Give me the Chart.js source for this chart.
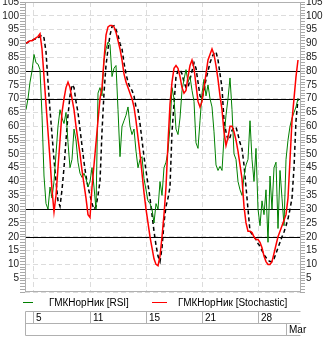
<!DOCTYPE html>
<html>
<head>
<meta charset="utf-8">
<script src="https://cdn.jsdelivr.net/npm/chart.js@4.4.1/dist/chart.umd.min.js"></script>
<style>
  html, body { margin: 0; padding: 0; background: #fff; }
</style>
</head>
<body>
<canvas id="chart" width="327" height="337"></canvas>
<script>
// Hourly bars, one index per bar.
const RSI = [
    66, 70, 76, 80, 86, 83, 82.5, 80.5, 64, 42, 32, 30, 38, 34, 40, 50, 60, 66, 63, 61,
    65, 54, 45, 48, 59, 55, 47, 43, 41.5, 43, 41, 38, 40, 45, 38, 30, 72, 74, 71, 84,
    88, 90.5, 89.5, 78, 81, 82, 66, 49, 60, 62, 64, 67, 60, 57, 59, 51, 45, 48, 49, 41,
    37, 33, 32, 30, 25, 32, 30, 40, 35, 45, 47, 51, 60, 74, 70, 59, 57, 63, 73, 77,
    80.5, 76, 78, 73, 69, 54, 52, 62, 72, 77, 71, 75, 70, 67, 58, 46, 44, 45.5, 44, 56,
    64, 70, 77.5, 66, 50, 48, 40, 37, 35, 42, 46, 48, 62, 48, 40, 52, 30, 24, 33, 28,
    37, 18, 42, 30, 45, 47, 23, 44, 34, 24, 48, 55, 60, 63, 65, 67, 70
];
const STOCHASTIC = [
    90, 90.5, 91, 91, 91.5, 92, 92.5, 93.5, 88, 78, 68, 58, 48, 37, 29, 35, 45, 55, 65, 70,
    74, 76, 74, 70, 66, 60, 55, 50, 44, 39, 34, 28, 27, 38, 46, 54, 62, 70, 74, 84,
    93, 96, 96.5, 96.5, 96, 94, 91, 88, 84, 79, 76, 74, 72, 70, 67, 62, 56, 50, 43, 36,
    30, 25, 20, 16, 12, 10, 9.5, 13, 20, 28, 38, 54, 68, 76, 81, 82, 81, 78, 74, 72,
    73, 78, 82, 84, 81, 75, 69, 67, 69, 74, 79, 84, 86, 88, 86, 82, 77, 71, 66, 58,
    53, 56, 60, 60, 58, 55, 51, 46, 41, 31, 25, 22, 22, 21.5, 20, 19, 19, 18, 16, 13,
    11, 10, 10, 11, 14, 17, 20, 22, 24, 26, 28, 34, 48, 62, 70, 78, 84
];
const SIGNAL = [
    90, 90.5, 91, 91, 91.5, 91.5, 92, 92.5, 93, 92, 87, 76, 66, 57, 48, 40, 33, 31, 37, 45,
    55, 64, 71, 75, 74, 69, 65, 59, 53, 47, 42, 38, 35, 32, 30, 31, 35, 40, 58, 72,
    82, 88, 93, 96, 96.4, 95, 93, 90, 88, 83, 79, 76, 74, 73, 71, 67, 66, 61, 55, 49,
    44, 39, 34, 28, 22, 17, 13, 11, 16, 25, 31, 34, 38, 58, 68, 78, 80, 80.5, 79, 76,
    74, 74, 77, 80, 83, 81, 76, 71, 70, 73, 77, 80, 83, 85, 86.5, 87, 84, 79, 74, 62,
    58, 55, 56, 58.5, 59.5, 59.7, 57, 54, 52, 46, 38, 30, 22, 21, 20, 19, 17.5, 16.7, 15, 13.5,
    12.5, 11.5, 11, 11, 12, 14, 16, 18, 20, 21.7, 24, 26.5, 30, 34, 45, 62, 70
];

// Overbought / oversold levels.
const LEVELS = [20, 30, 70, 80];

// Day boundaries (bar index) and their labels, then month boundary.
const DAY_TICKS = [3.5, 32, 60, 88, 116];
const DAY_LABELS = ['5', '11', '15', '21', '28'];
const MONTH_TICKS = [130];
const MONTH_LABELS = ['Mar'];

const FONT = '"Liberation Sans", Arial, sans-serif';
const GRID = '#dcdcdc';
const FRAME = '#b0b0b0';

const Y_STEPS = [];
for (let v = 0; v <= 105; v++) Y_STEPS.push(v);

const toPoints = arr => arr.map((v, i) => ({x: i, y: v}));

/**
 * Build a value axis; left one draws the grid, right one only ticks.
 */
function valueAxis(position) {
    return {
        type: 'linear',
        position: position,
        min: 0,
        max: 105,
        afterBuildTicks: scale => {
            scale.ticks = Y_STEPS.map(v => ({value: v}));
        },
        afterFit: scale => {
            scale.width = position === 'left' ? 25 : 27;
            scale.paddingTop = 0;
            scale.paddingBottom = 0;
        },
        grid: {
            drawOnChartArea: position === 'left',
            color: ctx => (ctx.tick && ctx.tick.value % 5 === 0) ? GRID : 'rgba(0,0,0,0)',
            tickColor: '#a8a8a8',
            tickLength: 5,
            lineWidth: 1
        },
        border: {display: false, dash: [5, 3]},
        ticks: {
            autoSkip: false,
            padding: 1,
            color: '#222',
            font: {family: FONT, size: 10},
            callback: v => (v > 0 && v % 5 === 0) ? String(v) : ''
        }
    };
}

/**
 * Level lines, frame, legend and the date table under the plot.
 */
const decorations = {
    id: 'decorations',
    beforeDatasetsDraw(chart) {
        const {ctx, chartArea: a, scales: {y}} = chart;
        ctx.save();
        ctx.strokeStyle = '#000';
        ctx.lineWidth = 1;
        LEVELS.forEach(v => {
            const py = Math.round(y.getPixelForValue(v)) + 0.5;
            ctx.beginPath();
            ctx.moveTo(a.left, py);
            ctx.lineTo(a.right, py);
            ctx.stroke();
        });
        ctx.restore();
    },
    afterDraw(chart) {
        const {ctx, chartArea: a, scales: {x}} = chart;
        const left = Math.floor(a.left) + 0.5;
        const right = Math.round(a.right) + 0.5;
        ctx.save();

        // plot frame
        ctx.strokeStyle = FRAME;
        ctx.lineWidth = 1;
        ctx.strokeRect(left, Math.round(a.top) + 0.5, right - left, Math.round(a.bottom) - Math.round(a.top) - 1);

        // legend
        ctx.font = '10px ' + FONT;
        ctx.textBaseline = 'middle';
        ctx.fillStyle = '#000';
        const items = [
            {ds: chart.data.datasets[0], x0: 23, x1: 33, tx: 49},
            {ds: chart.data.datasets[1], x0: 152, x1: 167, tx: 178}
        ];
        items.forEach(it => {
            ctx.fillStyle = it.ds.borderColor;
            ctx.fillRect(it.x0, 302, it.x1 - it.x0, 1);
            ctx.fillStyle = '#000';
            ctx.fillText(it.ds.label, it.tx, 303);
        });

        // date table
        const top = 311.5, mid = 323.5, bottom = 335.5;
        ctx.strokeStyle = FRAME;
        ctx.beginPath();
        [top, mid, bottom].forEach(yy => {
            ctx.moveTo(left, yy);
            ctx.lineTo(right, yy);
        });
        ctx.moveTo(left, top);
        ctx.lineTo(left, bottom);
        DAY_TICKS.forEach(v => {
            const px = Math.round(x.getPixelForValue(v)) + 0.5;
            ctx.moveTo(px, top);
            ctx.lineTo(px, mid);
        });
        MONTH_TICKS.forEach(v => {
            const px = Math.round(x.getPixelForValue(v)) + 0.5;
            ctx.moveTo(px, mid);
            ctx.lineTo(px, bottom);
        });
        ctx.stroke();

        ctx.fillStyle = '#000';
        DAY_TICKS.forEach((v, i) => {
            ctx.fillText(DAY_LABELS[i], Math.round(x.getPixelForValue(v)) + 3, (top + mid) / 2 + 0.5);
        });
        MONTH_TICKS.forEach((v, i) => {
            ctx.fillText(MONTH_LABELS[i], Math.round(x.getPixelForValue(v)) + 3, (mid + bottom) / 2 + 0.5);
        });
        ctx.restore();
    }
};

new Chart(document.getElementById('chart').getContext('2d'), {
    type: 'line',
    data: {
        datasets: [
            {
                label: 'ГМКНорНик [RSI]',
                data: toPoints(RSI),
                borderColor: '#008000',
                borderWidth: 1,
                order: 1
            },
            {
                label: 'ГМКНорНик [Stochastic]',
                data: toPoints(STOCHASTIC),
                borderColor: '#ff0000',
                borderWidth: 1.5,
                order: 0
            },
            {
                label: 'signal',
                data: toPoints(SIGNAL),
                borderColor: '#000000',
                borderWidth: 1.5,
                borderDash: [4, 3],
                order: 2
            }
        ]
    },
    options: {
        responsive: false,
        animation: false,
        events: [],
        layout: {padding: {top: 2, left: 0, right: 0, bottom: 0}},
        elements: {
            point: {radius: 0},
            line: {tension: 0, fill: false}
        },
        plugins: {
            legend: {display: false},
            tooltip: {enabled: false}
        },
        scales: {
            x: {
                type: 'linear',
                min: -0.5,
                max: 137,
                afterBuildTicks: scale => {
                    scale.ticks = DAY_TICKS.map(v => ({value: v}));
                },
                afterFit: scale => {
                    scale.height = 45;
                },
                ticks: {display: false},
                grid: {color: GRID, drawTicks: false},
                border: {display: false, dash: [5, 3]}
            },
            y: valueAxis('left'),
            y2: valueAxis('right')
        }
    },
    plugins: [decorations]
});
</script>
</body>
</html>
